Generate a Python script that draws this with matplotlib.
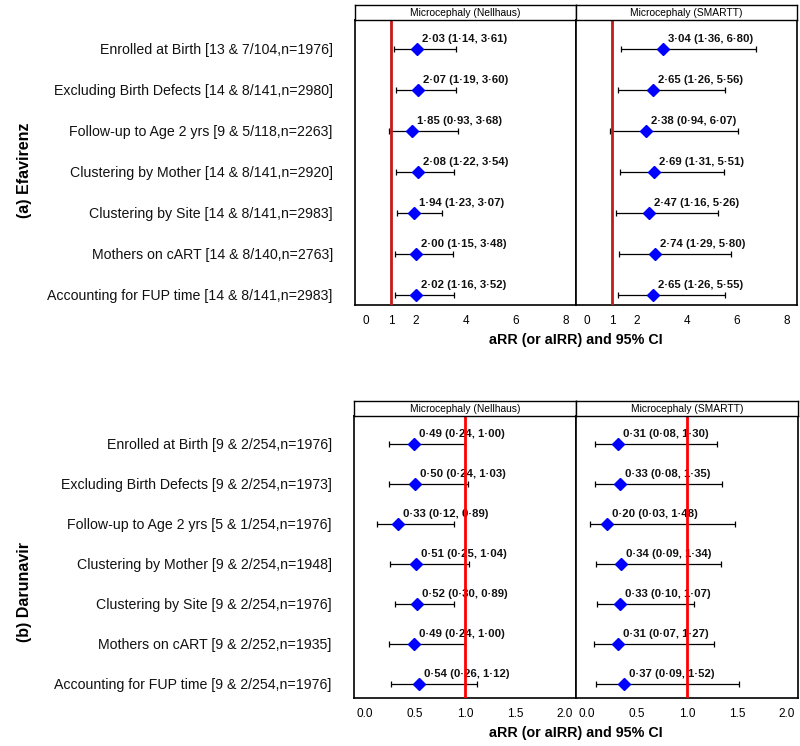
import matplotlib
matplotlib.use("Agg")
from matplotlib import pyplot as plt

plt.rcParams['font.family'] = ['Liberation Sans', 'DejaVu Sans']

# Efavirenz data
efv_labels = ["Enrolled at Birth [13 & 7/104,n=1976]",
              "Excluding Birth Defects [14 & 8/141,n=2980]",
              "Follow-up to Age 2 yrs [9 & 5/118,n=2263]",
              "Clustering by Mother [14 & 8/141,n=2920]",
              "Clustering by Site [14 & 8/141,n=2983]",
              "Mothers on cART [14 & 8/140,n=2763]",
              "Accounting for FUP time [14 & 8/141,n=2983]"]
efv_nell_est = [2.03, 2.07, 1.85, 2.08, 1.94, 2.00, 2.02]
efv_nell_lo = [1.14, 1.19, 0.93, 1.22, 1.23, 1.15, 1.16]
efv_nell_hi = [3.61, 3.60, 3.68, 3.54, 3.07, 3.48, 3.52]
efv_sm_est = [3.04, 2.65, 2.38, 2.69, 2.47, 2.74, 2.65]
efv_sm_lo = [1.36, 1.26, 0.94, 1.31, 1.16, 1.29, 1.26]
efv_sm_hi = [6.80, 5.56, 6.07, 5.51, 5.26, 5.80, 5.55]

# Darunavir data
drv_labels = ["Enrolled at Birth [9 & 2/254,n=1976]",
              "Excluding Birth Defects [9 & 2/254,n=1973]",
              "Follow-up to Age 2 yrs [5 & 1/254,n=1976]",
              "Clustering by Mother [9 & 2/254,n=1948]",
              "Clustering by Site [9 & 2/254,n=1976]",
              "Mothers on cART [9 & 2/252,n=1935]",
              "Accounting for FUP time [9 & 2/254,n=1976]"]
drv_nell_est = [0.49, 0.50, 0.33, 0.51, 0.52, 0.49, 0.54]
drv_nell_lo = [0.24, 0.24, 0.12, 0.25, 0.30, 0.24, 0.26]
drv_nell_hi = [1.00, 1.03, 0.89, 1.04, 0.89, 1.00, 1.12]
drv_sm_est = [0.31, 0.33, 0.20, 0.34, 0.33, 0.31, 0.37]
drv_sm_lo = [0.08, 0.08, 0.03, 0.09, 0.10, 0.07, 0.09]
drv_sm_hi = [1.30, 1.35, 1.48, 1.34, 1.07, 1.27, 1.52]

strip_titles = ["Microcephaly (Nellhaus)", "Microcephaly (SMARTT)"]
efv_ticks = [0, 1, 2, 4, 6, 8]
drv_ticks = [0.0, 0.5, 1.0, 1.5, 2.0]

W, H = 800, 746
fig = plt.figure(figsize=(8, 7.46), dpi=100)


def box(x0, x1, y0, y1):
    # pixel box -> figure fraction
    return [x0 / W, 1 - y1 / H, (x1 - x0) / W, (y1 - y0) / H]


def fmt(v):
    return f"{v:.2f}".replace('.', '\u00b7')


def panel(rect, strip_rect, est, lo, hi, xlim, ylim, ticks, tick_fmt,
          refcol, labels=None, title=''):
    ax = fig.add_axes(rect)
    y = list(range(1, len(est) + 1))
    xerr = [[e - l for e, l in zip(est, lo)], [h - e for e, h in zip(est, hi)]]
    ax.errorbar(est, y, xerr=xerr, fmt='none', ecolor='black', elinewidth=0.9,
                capsize=2.5, capthick=0.9, zorder=2)
    ax.plot(est, y, 'D', color='#0000ff', markersize=6, zorder=3)
    ax.axvline(1, color=refcol, lw=2, zorder=5)
    for e, l, h, yy in zip(est, lo, hi, y):
        ax.annotate(f"{fmt(e)} ({fmt(l)}, {fmt(h)})", (e, yy),
                    xytext=(5, 10), textcoords='offset pixels',
                    ha='left', va='center', fontsize=8.2, fontweight='bold',
                    color='#111111', zorder=4)
    ax.set_xlim(*xlim)
    ax.set_ylim(*ylim)
    ax.set_xticks(ticks)
    ax.set_xticklabels([tick_fmt(t) for t in ticks])
    ax.tick_params(axis='x', length=0, pad=7, labelsize=8.5)
    if labels:
        ax.set_yticks(y)
        ax.set_yticklabels(labels, fontsize=10.2, color='#111111')
        ax.tick_params(axis='y', length=0, pad=16)
    else:
        ax.set_yticks([])
    for s in ax.spines.values():
        s.set_linewidth(1.2)
    sa = fig.add_axes(strip_rect)
    sa.set_xticks([])
    sa.set_yticks([])
    sa.text(0.5, 0.5, title, ha='center', va='center', fontsize=7.4)
    for s in sa.spines.values():
        s.set_linewidth(1.0)
    return ax


# top: Efavirenz
ef_xlim = (-0.44, 8.43)
ef_ylim = (7.25, 0.3)
panel(box(355, 576, 20, 305), box(355, 576, 5, 20), efv_nell_est, efv_nell_lo,
      efv_nell_hi, ef_xlim, ef_ylim, efv_ticks, lambda t: f"{t:g}", '#c41a1a',
      labels=efv_labels, title=strip_titles[0])
panel(box(576, 797, 20, 305), box(576, 797, 5, 20), efv_sm_est, efv_sm_lo,
      efv_sm_hi, ef_xlim, ef_ylim, efv_ticks, lambda t: f"{t:g}", '#c41a1a',
      title=strip_titles[1])

# bottom: Darunavir
dr_xlim = (-0.11, 2.11)
dr_ylim = (7.35, 0.3)
panel(box(354, 576, 416, 698), box(354, 576, 401, 416), drv_nell_est,
      drv_nell_lo, drv_nell_hi, dr_xlim, dr_ylim, drv_ticks,
      lambda t: f"{t:.1f}", '#ff0000', labels=drv_labels,
      title=strip_titles[0])
panel(box(576, 798, 416, 698), box(576, 798, 401, 416), drv_sm_est,
      drv_sm_lo, drv_sm_hi, dr_xlim, dr_ylim, drv_ticks,
      lambda t: f"{t:.1f}", '#ff0000', title=strip_titles[1])

xlab = "aRR (or aIRR) and 95% CI"
fig.text(576 / W, 1 - 340 / H, xlab, ha='center', va='center',
         fontsize=10.3, fontweight='bold')
fig.text(576 / W, 1 - 733 / H, xlab, ha='center', va='center',
         fontsize=10.3, fontweight='bold')
fig.text(25 / W, 1 - 170 / H, "(a) Efavirenz", rotation=90, ha='center',
         va='center', fontsize=11.5, fontweight='bold')
fig.text(25 / W, 1 - 592 / H, "(b) Darunavir", rotation=90, ha='center',
         va='center', fontsize=11.5, fontweight='bold')

fig.savefig("out.png", dpi=100)
